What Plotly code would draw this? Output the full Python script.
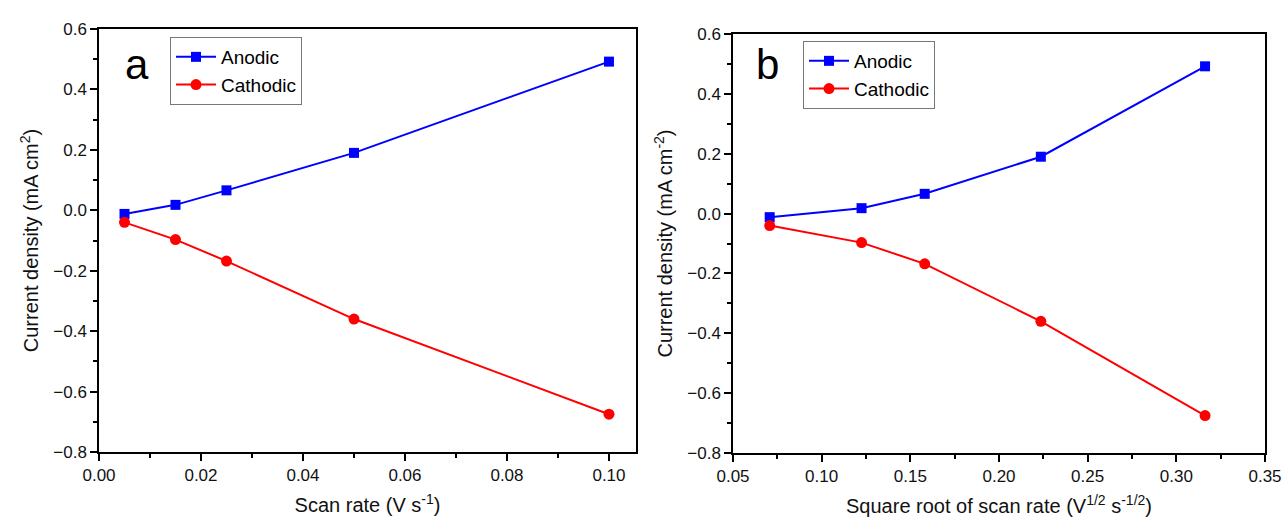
import plotly.graph_objects as go

scan_rate = [0.005, 0.015, 0.025, 0.05, 0.1]
sqrt_scan_rate = [0.0707, 0.1225, 0.1581, 0.2236, 0.3162]
anodic = [-0.012, 0.018, 0.066, 0.190, 0.492]
cathodic = [-0.040, -0.097, -0.168, -0.360, -0.675]

W, H = 1284, 520
FONT = "Liberation Sans, Arial, sans-serif"
BLUE = "#0000ff"
RED = "#ff0000"

fig = go.Figure()

def add_series(x, xa, ya, leg):
    fig.add_trace(go.Scatter(x=x, y=anodic, mode="lines+markers", name="Anodic",
                             line=dict(color=BLUE, width=2),
                             marker=dict(symbol="square", size=10, color=BLUE),
                             xaxis=xa, yaxis=ya, legend=leg))
    fig.add_trace(go.Scatter(x=x, y=cathodic, mode="lines+markers", name="Cathodic",
                             line=dict(color=RED, width=2),
                             marker=dict(symbol="circle", size=11, color=RED),
                             xaxis=xa, yaxis=ya, legend=leg))

add_series(scan_rate, "x", "y", "legend")
add_series(sqrt_scan_rate, "x2", "y2", "legend2")

def px_x(a, b):
    return [a / W, b / W]

def px_y(top, bottom):
    return [1 - bottom / H, 1 - top / H]

axis_common = dict(showline=True, linecolor="black", linewidth=1.5, mirror=True,
                   ticks="outside", ticklen=7, tickwidth=1.5, tickcolor="black",
                   showgrid=False, zeroline=False, automargin=False,
                   tickfont=dict(family=FONT, size=17, color="#111111"),
                   title_font=dict(family=FONT, size=20, color="#111111"))
minor_common = dict(ticks="outside", ticklen=4, tickwidth=1.5, tickcolor="black")

legend_common = dict(xanchor="left", yanchor="top",
                     bgcolor="white", bordercolor="#777777", borderwidth=1,
                     font=dict(family=FONT, size=19, color="black"), tracegroupgap=0,
                     itemwidth=40)

fig.update_layout(
    width=W, height=H, margin=dict(l=0, r=0, t=0, b=0),
    paper_bgcolor="white", plot_bgcolor="white",
    font=dict(family=FONT, color="black"),
    xaxis=dict(domain=px_x(99, 636), range=[0, 0.1053], tickvals=[0, 0.02, 0.04, 0.06, 0.08, 0.10],
               ticktext=["0.00", "0.02", "0.04", "0.06", "0.08", "0.10"],
               minor=dict(dtick=0.01, **minor_common),
               title=dict(text="Scan rate (V s<sup>-1</sup>)", standoff=14), anchor="y", **axis_common),
    yaxis=dict(domain=px_y(29, 452), range=[-0.8, 0.6], dtick=0.2, tickformat=".1f",
               minor=dict(dtick=0.1, **minor_common),
               title=dict(text="Current density (mA cm<sup>2</sup>)", standoff=9), anchor="x", **axis_common),
    xaxis2=dict(domain=px_x(733, 1265), range=[0.05, 0.35], dtick=0.05, tickformat=".2f",
                minor=dict(dtick=0.025, **minor_common),
                title=dict(text="Square root of scan rate (V<sup>1/2</sup> s<sup>-1/2</sup>)", standoff=14),
                anchor="y2", **axis_common),
    yaxis2=dict(domain=px_y(34, 453), range=[-0.8, 0.6], dtick=0.2, tickformat=".1f",
                minor=dict(dtick=0.1, **minor_common),
                title=dict(text="Current density (mA cm<sup>-2</sup>)", standoff=9), anchor="x2", **axis_common),
    legend=dict(x=170 / W, y=1 - 37 / H, **legend_common),
    legend2=dict(x=803 / W, y=1 - 41 / H, **legend_common),
    showlegend=True,
)

fig.add_annotation(text="a", x=137 / W, y=1 - 64 / H, xref="paper", yref="paper",
                   xanchor="center", yanchor="middle",
                   showarrow=False, font=dict(family=FONT, size=42, color="black"))
fig.add_annotation(text="b", x=767 / W, y=1 - 64 / H, xref="paper", yref="paper",
                   xanchor="center", yanchor="middle",
                   showarrow=False, font=dict(family=FONT, size=42, color="black"))

fig.write_html("out.html")
